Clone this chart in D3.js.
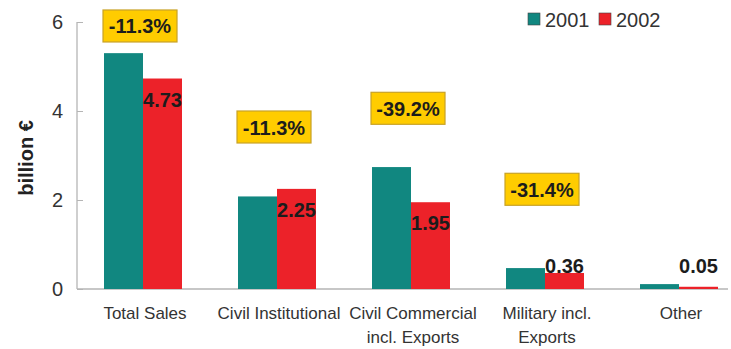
<!DOCTYPE html>
<html>
<head>
<meta charset="utf-8">
<script src="https://cdn.jsdelivr.net/npm/d3@7"></script>
<style>
  html, body { margin: 0; padding: 0; background: #fff; }
  svg { display: block; font-family: Arial, "Liberation Sans", sans-serif; }
</style>
</head>
<body>
<svg id="chart" width="731" height="349"></svg>
<script>
// Sales by segment, billion €
const categories = [
  ["Total Sales"],
  ["Civil Institutional"],
  ["Civil Commercial", "incl. Exports"],
  ["Military incl.", "Exports"],
  ["Other"]
];
const years = ["2001", "2002"];
const sales2001 = [5.3, 2.08, 2.74, 0.47, 0.11];
const sales2002 = [4.73, 2.25, 1.95, 0.36, 0.05];
// year-on-year change callouts and the level (in billion €) where each sits
const changeText = ["-11.3%", "-11.3%", "-39.2%", "-31.4%", null];
const changeLevel = [6.27, 4.0, 4.42, 2.6, null];
const yTicks = [0, 2, 4, 6];

const colors = { "2001": "#118780", "2002": "#ec2229" };

const svg = d3.select("#chart");
const x0 = 77, yBase = 289, yTop = 22;

const x = d3.scaleBand()
  .domain(d3.range(categories.length))
  .range([76, 746])
  .paddingInner(0.418)
  .paddingOuter(0.209);
const xs = d3.scaleBand().domain(years).range([0, x.bandwidth()]);
const y = d3.scaleLinear().domain([0, 6]).range([yBase, yTop]);

// axes
const yAxis = svg.append("g").attr("transform", `translate(${x0},0)`)
  .call(d3.axisRight(y).tickValues(yTicks).tickSize(6).tickFormat(""));
yAxis.select(".domain").remove();
yAxis.selectAll(".tick line").attr("stroke", "#b5b5b5");
svg.append("line").attr("x1", x0).attr("x2", x0).attr("y1", y(6)).attr("y2", yBase)
  .attr("stroke", "#b5b5b5").attr("stroke-width", 1.3);
svg.append("line").attr("x1", x0).attr("x2", 728).attr("y1", yBase).attr("y2", yBase)
  .attr("stroke", "#b5b5b5").attr("stroke-width", 1.3);

svg.append("g").selectAll("text").data(yTicks).join("text")
  .attr("x", 63).attr("y", d => y(d) + 7)
  .attr("text-anchor", "end")
  .attr("font-size", 20).attr("fill", "#333")
  .text(d => d);

svg.append("text")
  .attr("transform", "translate(33,158) rotate(-90)")
  .attr("text-anchor", "middle")
  .attr("font-size", 20).attr("font-weight", "bold").attr("fill", "#222")
  .text("billion €");

// bars
const rows = categories.map((c, i) => ({ i, values: [sales2001[i], sales2002[i]] }));
const groups = svg.append("g").selectAll("g").data(rows).join("g")
  .attr("transform", d => `translate(${x(d.i)},0)`);
groups.selectAll("rect").data(d => d.values.map((v, k) => ({ year: years[k], v })))
  .join("rect")
  .attr("x", d => xs(d.year))
  .attr("width", xs.bandwidth())
  .attr("y", d => y(d.v))
  .attr("height", d => yBase - y(d.v))
  .attr("fill", d => colors[d.year]);

// 2002 value labels
svg.append("g").selectAll("text").data(sales2002).join("text")
  .attr("x", (d, i) => x(i) + xs("2002") + xs.bandwidth() / 2)
  .attr("y", d => Math.min(y(d) + 28, yBase - 16))
  .attr("text-anchor", "middle")
  .attr("font-size", 20).attr("font-weight", "bold").attr("fill", "#1c1c1c")
  .text(d => d.toFixed(2));

// change callouts
const callouts = changeText.map((t, i) => ({ t, lv: changeLevel[i], i })).filter(d => d.t);
const cg = svg.append("g").selectAll("g").data(callouts).join("g")
  .attr("transform", d => `translate(${x(d.i) - 1},${y(d.lv)})`);
cg.append("rect").attr("width", 74).attr("height", 32)
  .attr("fill", "#ffcc00").attr("stroke", "#c8a227").attr("stroke-width", 1.2);
cg.append("text").attr("x", 37).attr("y", 23.5)
  .attr("text-anchor", "middle")
  .attr("font-size", 20).attr("font-weight", "bold").attr("fill", "#1c1c1c")
  .text(d => d.t);

// category labels
const cl = svg.append("g").selectAll("text").data(categories).join("text")
  .attr("x", (d, i) => x(i) + x.bandwidth() / 2 + 2)
  .attr("y", 319)
  .attr("text-anchor", "middle")
  .attr("font-size", 17).attr("fill", "#333");
cl.selectAll("tspan").data(d => d).join("tspan")
  .attr("x", function () { return this.parentNode.getAttribute("x"); })
  .attr("dy", (d, k) => k === 0 ? 0 : 24)
  .text(d => d);

// legend
const lg = svg.append("g").attr("transform", "translate(528,13)");
const items = lg.selectAll("g").data(years).join("g")
  .attr("transform", (d, k) => `translate(${k * 71},0)`);
items.append("rect").attr("width", 12).attr("height", 12)
  .attr("fill", d => colors[d]).attr("stroke", "#444").attr("stroke-width", 0.6);
items.append("text").attr("x", 17).attr("y", 13.5)
  .attr("font-size", 20).attr("fill", "#333")
  .text(d => d);
</script>
</body>
</html>
